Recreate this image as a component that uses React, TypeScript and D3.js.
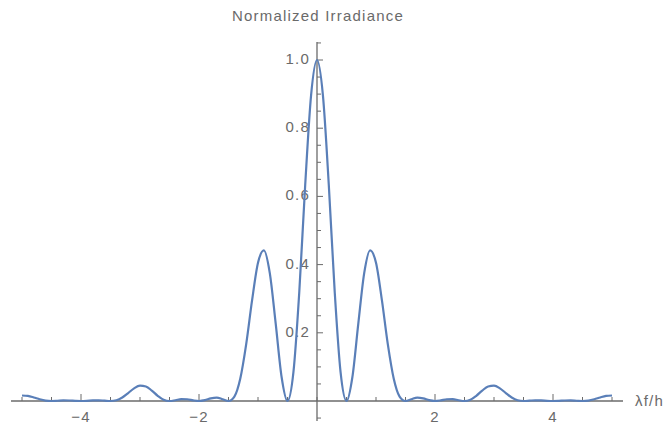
import React from "react";
import * as d3 from "d3";

const xValues: number[] = [
  -5.0, -4.9, -4.8, -4.7, -4.6, -4.5, -4.4, -4.3, -4.2, -4.1,
  -4.0, -3.9, -3.8, -3.7, -3.6, -3.5, -3.4, -3.3, -3.2, -3.1,
  -3.0, -2.9, -2.8, -2.7, -2.6, -2.5, -2.4, -2.3, -2.2, -2.1,
  -2.0, -1.9, -1.8, -1.7, -1.6, -1.5, -1.4, -1.3, -1.2, -1.1,
  -1.0, -0.9, -0.8, -0.7, -0.6, -0.5, -0.4, -0.3, -0.2, -0.1,
  0.0, 0.1, 0.2, 0.3, 0.4, 0.5, 0.6, 0.7, 0.8, 0.9,
  1.0, 1.1, 1.2, 1.3, 1.4, 1.5, 1.6, 1.7, 1.8, 1.9,
  2.0, 2.1, 2.2, 2.3, 2.4, 2.5, 2.6, 2.7, 2.8, 2.9,
  3.0, 3.1, 3.2, 3.3, 3.4, 3.5, 3.6, 3.7, 3.8, 3.9,
  4.0, 4.1, 4.2, 4.3, 4.4, 4.5, 4.6, 4.7, 4.8, 4.9, 5.0,
];

const irradiance: number[] = [
  0.0162, 0.0149, 0.0104, 0.0050, 0.0012, 0.0, 0.0007, 0.0016, 0.0014, 0.0005,
  0.0, 0.0006, 0.0018, 0.0021, 0.0010, 0.0, 0.0022, 0.0102, 0.0234, 0.0372,
  0.0450, 0.0425, 0.0306, 0.0153, 0.0037, 0.0, 0.0023, 0.0055, 0.0052, 0.0020,
  0.0, 0.0025, 0.0078, 0.0100, 0.0052, 0.0, 0.0129, 0.0658, 0.1666, 0.2956,
  0.4053, 0.4415, 0.3749, 0.2269, 0.0704, 0.0, 0.0836, 0.3207, 0.6333, 0.8971,
  1.0, 0.8971, 0.6333, 0.3207, 0.0836, 0.0, 0.0704, 0.2269, 0.3749, 0.4415,
  0.4053, 0.2956, 0.1666, 0.0658, 0.0129, 0.0, 0.0052, 0.0100, 0.0078, 0.0025,
  0.0, 0.0020, 0.0052, 0.0055, 0.0023, 0.0, 0.0037, 0.0153, 0.0306, 0.0425,
  0.0450, 0.0372, 0.0234, 0.0102, 0.0022, 0.0, 0.0010, 0.0021, 0.0018, 0.0006,
  0.0, 0.0005, 0.0014, 0.0016, 0.0007, 0.0, 0.0012, 0.0050, 0.0104, 0.0149, 0.0162,
];

const xTickLabels: number[] = [-4, -2, 2, 4];
const yTickLabels: number[] = [0.2, 0.4, 0.6, 0.8, 1.0];

const W = 667;
const H = 425;

export default function App() {
  const x = d3.scaleLinear().domain([-5, 5]).range([22, 612]);
  const y = d3.scaleLinear().domain([0, 1]).range([401, 60]);

  const data = xValues.map((v, i) => [v, irradiance[i]] as [number, number]);
  const line = d3
    .line<[number, number]>()
    .x((d) => x(d[0]))
    .y((d) => y(d[1]))
    .curve(d3.curveMonotoneX);

  const xMinor = d3.range(-10, 11).map((k) => k * 0.5);
  const yMinor = d3.range(-1, 22).map((k) => +(k * 0.05).toFixed(2));

  const axisColor = "#6b6b6b";
  const textColor = "#6a6a6a";
  const font = "'Liberation Sans', 'DejaVu Sans', sans-serif";
  const fs = 15;
  const ls = 1.2;

  return (
    <svg
      width={W}
      height={H}
      style={{ position: "absolute", left: 0, top: 0, background: "#fff" }}
    >
      <text
        x={318}
        y={20.5}
        textAnchor="middle"
        fontFamily={font}
        fontSize={fs}
        letterSpacing={ls}
        fill={textColor}
      >
        Normalized Irradiance
      </text>

      {/* x axis */}
      <line x1={11} x2={623} y1={y(0)} y2={y(0)} stroke={axisColor} strokeWidth={1.3} />
      {xMinor.map((t) => {
        const major = Math.abs(t % 2) < 1e-9 && t !== 0;
        const len = major ? 7 : 4;
        return (
          <line
            key={"xt" + t}
            x1={x(t)}
            x2={x(t)}
            y1={y(0)}
            y2={y(0) - len}
            stroke={axisColor}
            strokeWidth={1}
          />
        );
      })}
      {xTickLabels.map((t) => (
        <text
          key={"xl" + t}
          x={x(t)}
          y={422}
          textAnchor="middle"
          fontFamily={font}
          fontSize={fs}
          letterSpacing={ls}
          fill={textColor}
        >
          {t < 0 ? "\u2212" + Math.abs(t) : String(t)}
        </text>
      ))}
      <text x={635} y={406} fontFamily={font} fontSize={fs} letterSpacing={ls} fill={textColor}>
        λf/h
      </text>

      {/* y axis */}
      <line x1={x(0)} x2={x(0)} y1={42} y2={421} stroke={axisColor} strokeWidth={1.3} />
      {yMinor.map((t) => {
        if (t === 0) return null;
        const major = Math.abs((t * 5) % 1) < 1e-6 || Math.abs((t * 5) % 1) > 1 - 1e-6;
        const len = major ? 6 : 4;
        return (
          <line
            key={"yt" + t}
            x1={x(0)}
            x2={x(0) + len}
            y1={y(t)}
            y2={y(t)}
            stroke={axisColor}
            strokeWidth={1}
          />
        );
      })}
      {yTickLabels.map((t) => (
        <text
          key={"yl" + t}
          x={310}
          y={y(t) + 4}
          textAnchor="end"
          fontFamily={font}
          fontSize={fs}
          letterSpacing={ls}
          fill={textColor}
        >
          {t.toFixed(1)}
        </text>
      ))}

      <path
        d={line(data) || ""}
        fill="none"
        stroke="#5a7fb8"
        strokeWidth={2.2}
        strokeLinejoin="round"
      />
    </svg>
  );
}
